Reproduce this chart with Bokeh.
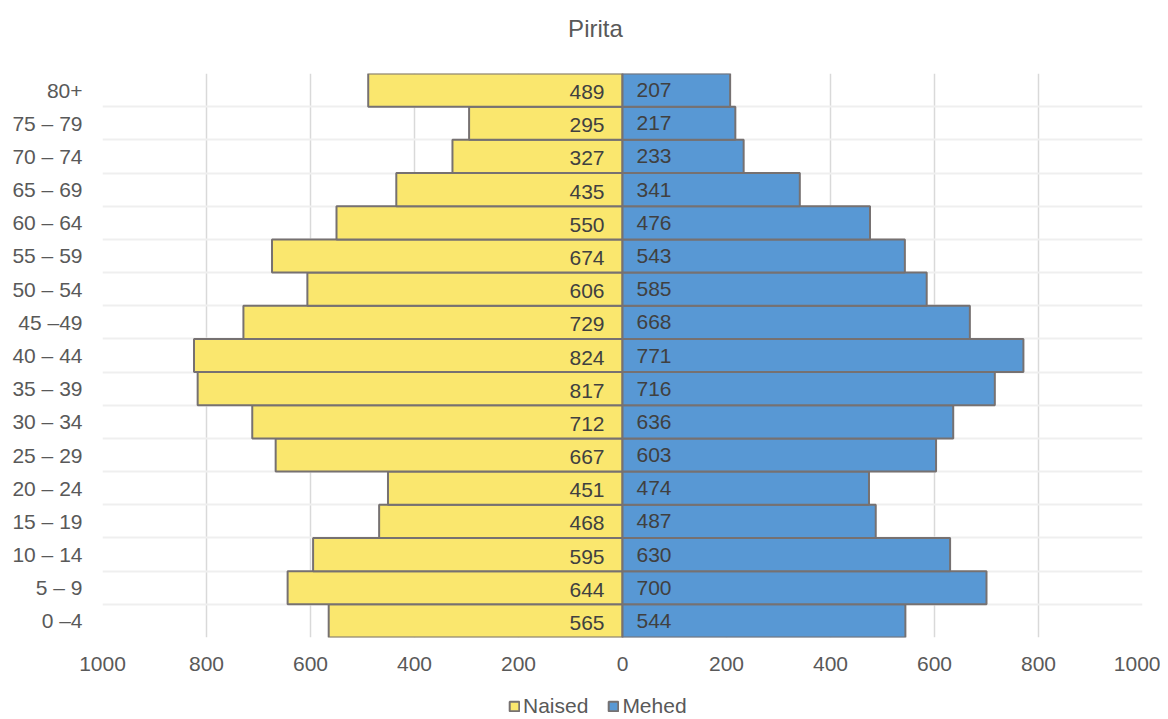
from bokeh.plotting import figure
from bokeh.layouts import column
from bokeh.models import ColumnDataSource, FixedTicker, Legend, LegendItem, Range1d
from bokeh.core.properties import value
from bokeh.embed import file_html
from bokeh.resources import INLINE

title_text = "Pirita"
categories = ["0 –4", "5 – 9", "10 – 14", "15 – 19", "20 – 24", "25 – 29", "30 – 34",
              "35 – 39", "40 – 44", "45 –49", "50 – 54", "55 – 59", "60 – 64", "65 – 69",
              "70 – 74", "75 – 79", "80+"]
naised = [565, 644, 595, 468, 451, 667, 712, 817, 824, 729, 606, 674, 550, 435, 327, 295, 489]
mehed = [544, 700, 630, 487, 474, 603, 636, 716, 771, 668, 585, 543, 476, 341, 233, 217, 207]
x_ticks = [-1000, -800, -600, -400, -200, 0, 200, 400, 600, 800, 1000]

FONT = "Liberation Sans"
YELLOW = "#FAE76E"
BLUE = "#5898D4"
EDGE = "#767171"
W = 1160
n = len(categories)
ypos = list(range(n))
src = ColumnDataSource(dict(
    y=ypos,
    nl=[-v for v in naised],
    mr=mehed,
    ntxt=[str(v) for v in naised],
    mtxt=[str(v) for v in mehed],
    zero=[0] * n,
))


def strip(h):
    f = figure(width=W, height=h, output_backend="svg", toolbar_location=None,
               x_range=Range1d(0, 1), y_range=Range1d(0, 1),
               min_border_left=0, min_border_right=0, min_border_top=0, min_border_bottom=0)
    f.axis.visible = False
    f.grid.visible = False
    f.outline_line_color = None
    return f


# title strip
tt = strip(50)
tt.text(x=[0.474], y=[0.44], text=[title_text], text_align="center", text_baseline="middle",
        text_font=value(FONT), text_font_size="24px", text_color="#595959")

p = figure(width=W, height=644, output_backend="svg", toolbar_location=None,
           x_range=Range1d(-1000, 1000), y_range=Range1d(-0.5, n - 0.5),
           min_border_left=102, min_border_right=18, min_border_top=23, min_border_bottom=57)
p.outline_line_color = None
p.background_fill_color = "white"

nb = p.hbar(y="y", left="nl", right="zero", height=1.0, source=src,
            fill_color=YELLOW, line_color=EDGE, line_width=2)
mb = p.hbar(y="y", left="zero", right="mr", height=1.0, source=src,
            fill_color=BLUE, line_color=EDGE, line_width=2)

p.text(x="zero", y="y", text="ntxt", source=src, text_align="right", text_baseline="middle",
       x_offset=-18, y_offset=2, text_font=value(FONT), text_font_size="21px", text_color="#404040")
p.text(x="zero", y="y", text="mtxt", source=src, text_align="left", text_baseline="middle",
       x_offset=14, text_font=value(FONT), text_font_size="21px", text_color="#404040")

# axes
p.xaxis.ticker = FixedTicker(ticks=x_ticks)
p.xaxis.major_label_overrides = {t: str(abs(t)) for t in x_ticks}
p.yaxis.ticker = FixedTicker(ticks=ypos)
p.yaxis.major_label_overrides = {i: c for i, c in enumerate(categories)}
for ax in (p.xaxis, p.yaxis):
    ax.axis_line_color = None
    ax.major_tick_line_color = None
    ax.minor_tick_line_color = None
    ax.major_label_text_font = FONT
    ax.major_label_text_font_size = "21px"
    ax.major_label_text_color = "#595959"
p.xaxis.major_label_standoff = 13
p.yaxis.major_label_standoff = 14

p.xgrid.ticker = FixedTicker(ticks=x_ticks)
p.xgrid.grid_line_color = "#D9D9D9"
p.xgrid.grid_line_width = 1.5
p.ygrid.ticker = FixedTicker(ticks=[i - 0.5 for i in range(n + 1)])
p.ygrid.grid_line_color = "#EFEFEF"
p.ygrid.grid_line_width = 2

# legend strip below the chart (its renderers hold one undrawable NaN point)
nan = float("nan")
lg = strip(24)
ln = lg.hbar(y=[nan], left=[nan], right=[nan], height=1.0, fill_color=YELLOW, line_color=EDGE, line_width=2)
lm = lg.hbar(y=[nan], left=[nan], right=[nan], height=1.0, fill_color=BLUE, line_color=EDGE, line_width=2)
legend = Legend(items=[LegendItem(label="Naised", renderers=[ln]),
                       LegendItem(label="Mehed", renderers=[lm])],
                orientation="horizontal", location=(406, 0),
                label_text_font=FONT, label_text_font_size="21px", label_text_color="#595959",
                glyph_width=12, glyph_height=12, label_standoff=3, spacing=19,
                padding=0, margin=0, border_line_color=None, background_fill_alpha=0)
lg.add_layout(legend, "center")

layout = column(tt, p, lg, spacing=0)
open("out.html", "w").write(file_html(layout, INLINE))
